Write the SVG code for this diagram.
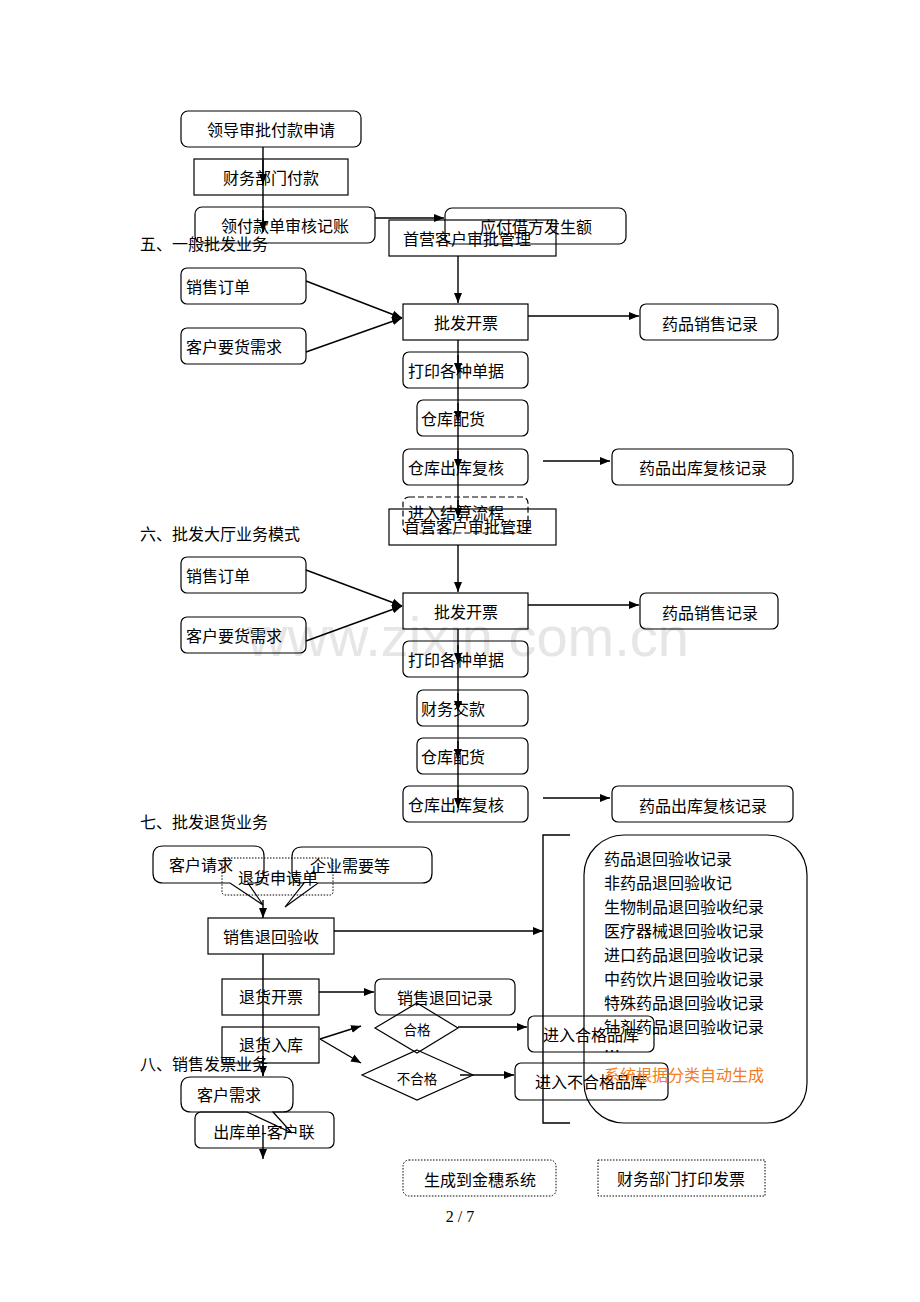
<svg xmlns="http://www.w3.org/2000/svg" width="920" height="1302" viewBox="0 0 920 1302">
<defs>
<marker id="ah" viewBox="0 0 10 10" refX="10" refY="5" markerWidth="10" markerHeight="10" markerUnits="userSpaceOnUse" orient="auto">
<path d="M0,1 L10,5 L0,9 Z" fill="#000"/>
</marker>
</defs>
<style>
.t{font-family:"Noto Sans CJK SC","Noto Sans CJK JP",sans-serif;font-size:16px;fill:#000}
.m{text-anchor:middle}
.s{font-size:13.5px}
.b{fill:none;stroke:#000;stroke-width:1.2}
.d{fill:none;stroke:#000;stroke-width:1.2;stroke-dasharray:6 3}
.o{fill:none;stroke:#000;stroke-width:1;stroke-dasharray:1.5 1.5}
.c{fill:none;stroke:#000;stroke-width:1.4}
.a{fill:none;stroke:#000;stroke-width:1.4;marker-end:url(#ah)}
.wm{font-family:"Liberation Sans",Arial,sans-serif;font-size:56px;fill:#e6e6e6}
</style>
<rect width="920" height="1302" fill="#fff"/>
<text class="wm" x="468" y="656" text-anchor="middle">www.zixin.com.cn</text>

<g id="headings">
<text class="t" x="140" y="250">五、一般批发业务</text>
<text class="t" x="140" y="540">六、批发大厅业务模式</text>
<text class="t" x="140" y="828">七、批发退货业务</text>
<text class="t" x="140" y="1070">八、销售发票业务</text>
<text x="460" y="1222" text-anchor="middle" font-family="Liberation Serif,serif" font-size="16">2 / 7</text>
</g>

<g id="connectors">
<line class="c" x1="263" y1="147" x2="263" y2="232"/>
<line class="a" x1="263" y1="160" x2="263" y2="184"/>
<line class="a" x1="263" y1="210" x2="263" y2="232"/>
<line class="a" x1="375" y1="218" x2="444" y2="218"/>
<line class="a" x1="458" y1="256" x2="458" y2="303"/>
<line class="a" x1="306" y1="281" x2="402" y2="318"/>
<line class="a" x1="306" y1="352" x2="402" y2="318"/>
<line class="a" x1="528" y1="316" x2="639" y2="316"/>
<line class="c" x1="458" y1="340" x2="458" y2="517"/>
<line class="a" x1="458" y1="355" x2="458" y2="373"/>
<line class="a" x1="458" y1="403" x2="458" y2="421"/>
<line class="a" x1="458" y1="451" x2="458" y2="469"/>
<line class="a" x1="458" y1="500" x2="458" y2="518"/>
<line class="a" x1="543" y1="461" x2="610" y2="461"/>
<line class="a" x1="458" y1="545" x2="458" y2="592"/>
<line class="a" x1="306" y1="570" x2="402" y2="606"/>
<line class="a" x1="306" y1="641" x2="402" y2="606"/>
<line class="a" x1="528" y1="605" x2="639" y2="605"/>
<line class="c" x1="458" y1="629" x2="458" y2="807"/>
<line class="a" x1="458" y1="645" x2="458" y2="663"/>
<line class="a" x1="458" y1="693" x2="458" y2="711"/>
<line class="a" x1="458" y1="741" x2="458" y2="759"/>
<line class="a" x1="458" y1="790" x2="458" y2="808"/>
<line class="a" x1="543" y1="798" x2="610" y2="798"/>
<line class="a" x1="263" y1="900" x2="263" y2="918"/>
<line class="a" x1="334" y1="931" x2="543" y2="931"/>
<polyline class="c" points="570,835 543,835 543,1123 570,1123"/>
<line class="c" x1="263" y1="954" x2="263" y2="1076"/>
<line class="a" x1="263" y1="1056" x2="263" y2="1076"/>
<line class="a" x1="319" y1="992" x2="374" y2="992"/>
<line class="a" x1="320" y1="1039" x2="361" y2="1026"/>
<line class="a" x1="320" y1="1039" x2="361" y2="1063"/>
<line class="a" x1="458" y1="1027" x2="527" y2="1027"/>
<line class="a" x1="460" y1="1075" x2="514" y2="1075"/>
<line class="a" x1="263" y1="1125" x2="263" y2="1159"/>
</g>

<g id="n-lingdao"><rect class="b" x="181" y="111" width="180" height="36" rx="7"/><text class="t m" x="271" y="136">领导审批付款申请</text></g>
<g id="n-caiwu-fk"><rect class="b" x="194" y="159" width="154" height="36"/><text class="t m" x="271" y="184">财务部门付款</text></g>
<g id="n-lingfk"><rect class="b" x="195" y="207" width="180" height="36" rx="7"/><text class="t m" x="285" y="232">领付款单审核记账</text></g>
<g id="n-yingfu"><rect class="b" x="445" y="208" width="181" height="36" rx="7"/><text class="t m" x="536" y="233">应付借方发生额</text></g>
<g id="n-shouying1"><rect class="b" x="389" y="220" width="167" height="36"/><text class="t" x="403" y="245">首营客户审批管理</text></g>

<g id="n5-xsdd"><rect class="b" x="181" y="268" width="125" height="36" rx="6"/><text class="t" x="186" y="293">销售订单</text></g>
<g id="n5-khyh"><rect class="b" x="181" y="328" width="125" height="36" rx="6"/><text class="t" x="186" y="353">客户要货需求</text></g>
<g id="n5-pfkp"><rect class="b" x="403" y="304" width="125" height="36"/><text class="t m" x="466" y="329">批发开票</text></g>
<g id="n5-ypxs"><rect class="b" x="640" y="304" width="138" height="36" rx="6"/><text class="t m" x="710" y="330">药品销售记录</text></g>
<g id="n5-dy"><rect class="b" x="403" y="352" width="125" height="36" rx="6"/><text class="t" x="408" y="377">打印各种单据</text></g>
<g id="n5-ckph"><rect class="b" x="417" y="400" width="111" height="36" rx="6"/><text class="t" x="421" y="425">仓库配货</text></g>
<g id="n5-ckfh"><rect class="b" x="403" y="449" width="125" height="36" rx="6"/><text class="t" x="408" y="474">仓库出库复核</text></g>
<g id="n5-ypck"><rect class="b" x="612" y="449" width="181" height="36" rx="6"/><text class="t m" x="703" y="474">药品出库复核记录</text></g>
<g id="n5-js"><rect class="d" x="403" y="497" width="125" height="36" rx="6"/><text class="t" x="408" y="519">进入结算流程</text></g>
<g id="n-shouying2"><rect class="b" x="389" y="509" width="167" height="36"/><text class="t" x="404" y="533">首营客户审批管理</text></g>

<g id="n6-xsdd"><rect class="b" x="181" y="557" width="125" height="36" rx="6"/><text class="t" x="186" y="582">销售订单</text></g>
<g id="n6-khyh"><rect class="b" x="181" y="617" width="125" height="36" rx="6"/><text class="t" x="186" y="642">客户要货需求</text></g>
<g id="n6-pfkp"><rect class="b" x="403" y="593" width="125" height="36"/><text class="t m" x="466" y="618">批发开票</text></g>
<g id="n6-ypxs"><rect class="b" x="640" y="593" width="138" height="36" rx="6"/><text class="t m" x="710" y="619">药品销售记录</text></g>
<g id="n6-dy"><rect class="b" x="403" y="641" width="125" height="36" rx="6"/><text class="t" x="408" y="666">打印各种单据</text></g>
<g id="n6-cwjk"><rect class="b" x="417" y="690" width="111" height="36" rx="6"/><text class="t" x="421" y="715">财务交款</text></g>
<g id="n6-ckph"><rect class="b" x="417" y="738" width="111" height="36" rx="6"/><text class="t" x="421" y="763">仓库配货</text></g>
<g id="n6-ckfh"><rect class="b" x="403" y="786" width="125" height="36" rx="6"/><text class="t" x="408" y="811">仓库出库复核</text></g>
<g id="n6-ypck"><rect class="b" x="612" y="786" width="181" height="36" rx="6"/><text class="t m" x="703" y="812">药品出库复核记录</text></g>

<g id="n7-khqq"><path class="b" d="M163,846 H254 Q264,846 264,856 V873 Q264,883 254,883 H248 L263,905 L230,883 H163 Q153,883 153,873 V856 Q153,846 163,846 Z"/><text class="t" x="169" y="871">客户请求</text></g>
<g id="n7-qyxy"><path class="b" d="M302,847 H422 Q432,847 432,857 V873 Q432,883 422,883 H318 L285,907 L304,883 H302 Q292,883 292,873 V857 Q292,847 302,847 Z"/><text class="t m" x="350" y="872">企业需要等</text></g>
<g id="n7-thsqd"><rect class="o" x="222" y="858" width="111" height="37" rx="3"/><text class="t m" x="278" y="884">退货申请单</text></g>
<g id="n7-xsthys"><rect class="b" x="208" y="918" width="126" height="36"/><text class="t m" x="271" y="943">销售退回验收</text></g>
<g id="n7-thkp"><rect class="b" x="222" y="979" width="97" height="36"/><text class="t m" x="271" y="1003">退货开票</text></g>
<g id="n7-xsthjl"><rect class="b" x="375" y="979" width="140" height="36" rx="6"/><text class="t m" x="445" y="1004">销售退回记录</text></g>
<g id="n7-thrk"><rect class="b" x="222" y="1027" width="97" height="36"/><text class="t m" x="271" y="1051">退货入库</text></g>
<g id="n7-hege"><polygon class="b" points="417,1003 458,1028 417,1053 375,1028"/><text class="t s m" x="417" y="1035">合格</text></g>
<g id="n7-buhege"><polygon class="b" points="417,1050 473,1075 417,1100 362,1075"/><text class="t s m" x="417" y="1084">不合格</text></g>
<g id="n7-hgpk"><rect class="b" x="528" y="1016" width="126" height="36" rx="6"/><text class="t m" x="591" y="1041">进入合格品库</text></g>
<g id="n7-bhgpk"><rect class="b" x="515" y="1063" width="153" height="37" rx="6"/><text class="t m" x="591" y="1088">进入不合格品库</text></g>
<g id="n7-list">
<rect class="b" x="584" y="835" width="223" height="288" rx="40"/>
<text class="t" x="604" y="865">药品退回验收记录</text>
<text class="t" x="604" y="889">非药品退回验收记</text>
<text class="t" x="604" y="913">生物制品退回验收纪录</text>
<text class="t" x="604" y="937">医疗器械退回验收记录</text>
<text class="t" x="604" y="961">进口药品退回验收记录</text>
<text class="t" x="604" y="985">中药饮片退回验收记录</text>
<text class="t" x="604" y="1009">特殊药品退回验收记录</text>
<text class="t" x="604" y="1033">针剂药品退回验收记录</text>
<text class="t" x="604" y="1057">…</text>
<text class="t" x="604" y="1081" style="fill:#f47b20">系统根据分类自动生成</text>
</g>

<g id="n8-khxq"><path class="b" d="M191,1077 H283 Q293,1077 293,1087 V1102 Q293,1112 283,1112 H273 L292,1133 L247,1112 H191 Q181,1112 181,1102 V1087 Q181,1077 191,1077 Z"/><text class="t m" x="229" y="1101">客户需求</text></g>
<g id="n8-ckd"><rect class="b" x="195" y="1112" width="139" height="36" rx="6"/><text class="t m" x="264" y="1138">出库单-客户联</text></g>
<g id="n8-js"><rect class="o" x="403" y="1160" width="153" height="36" rx="6"/><text class="t m" x="480" y="1186">生成到金穗系统</text></g>
<g id="n8-cwdy"><rect class="o" x="598" y="1160" width="167" height="36"/><text class="t m" x="681" y="1185">财务部门打印发票</text></g>
</svg>
